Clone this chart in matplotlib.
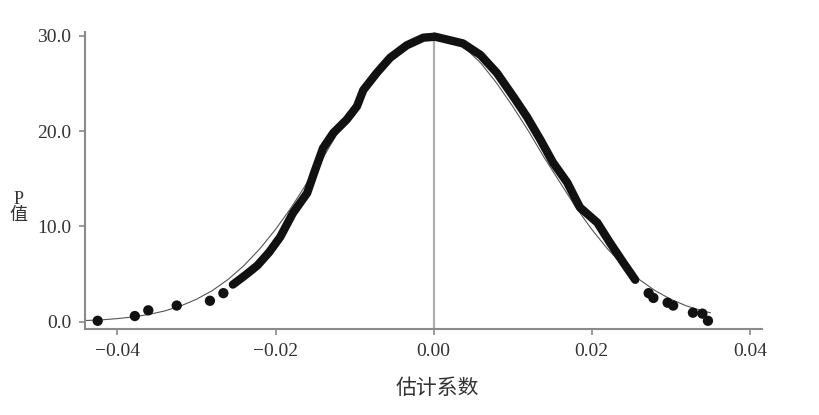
import numpy as np
import matplotlib
matplotlib.use("Agg")
import matplotlib.pyplot as plt

plt.rcParams['font.family'] = ['Liberation Serif', 'Noto Sans CJK SC']

# thick curve (estimated coefficients vs p value)
core_x = [-0.0254, -0.0238, -0.0223, -0.0208, -0.0194, -0.0178, -0.0160, -0.0150,
          -0.0140, -0.0127, -0.0110, -0.0097, -0.0089, -0.0072, -0.0055, -0.0034,
          -0.0013, 0.0002, 0.0037, 0.0059, 0.0080, 0.0101, 0.0118, 0.0135,
          0.0151, 0.0169, 0.0185, 0.0207, 0.0223, 0.0240, 0.0255]
core_y = [3.9, 4.9, 5.9, 7.3, 8.9, 11.4, 13.5, 15.9,
          18.2, 19.8, 21.2, 22.6, 24.3, 26.1, 27.7, 29.0,
          29.8, 29.9, 29.2, 28.0, 26.1, 23.6, 21.5, 19.1,
          16.7, 14.6, 12.0, 10.4, 8.3, 6.2, 4.4]

# scattered tail points
tail_x = [-0.0425, -0.0378, -0.0361, -0.0325, -0.0283, -0.0266,
          0.0272, 0.0278, 0.0296, 0.0303, 0.0328, 0.0340, 0.0347]
tail_y = [0.1, 0.6, 1.2, 1.7, 2.2, 3.0,
          3.0, 2.5, 2.0, 1.7, 0.95, 0.85, 0.1]

# thin reference curve
ref_x = [-0.044, -0.042, -0.040, -0.038, -0.036, -0.034, -0.032, -0.030, -0.028,
         -0.026, -0.024, -0.022, -0.020, -0.018, -0.016, -0.014, -0.012, -0.010,
         -0.008, -0.006, -0.004, -0.002, 0.0, 0.002, 0.004, 0.006, 0.008, 0.010,
         0.012, 0.014, 0.016, 0.018, 0.020, 0.022, 0.024, 0.026, 0.028, 0.030,
         0.032, 0.034, 0.035]
ref_y = [0.13, 0.20, 0.33, 0.51, 0.77, 1.14, 1.66, 2.36, 3.27,
         4.44, 5.89, 7.64, 9.69, 12.0, 14.6, 17.2, 20.0, 22.6,
         25.0, 27.1, 28.7, 29.7, 30.0, 29.7, 28.7, 27.1, 25.0, 22.6,
         20.0, 17.2, 14.6, 12.0, 9.69, 7.64, 5.89, 4.44, 3.27, 2.36,
         1.66, 1.14, 0.95]

xticks = [-0.04, -0.02, 0.0, 0.02, 0.04]
xticklabels = ['\u22120.04', '\u22120.02', '0.00', '0.02', '0.04']
yticks = [0, 10, 20, 30]
yticklabels = ['0.0', '10.0', '20.0', '30.0']

fig = plt.figure(figsize=(8.2, 4.15), dpi=100)
ax = fig.add_axes([0.1037, 0.207, 0.8252, 0.716])

ax.axvline(0, color='#b0b0b0', lw=1.6, zorder=1)
ax.plot(ref_x, ref_y, color='#555555', lw=0.8, zorder=2)
ax.plot(core_x, core_y, color='#111111', lw=6, solid_capstyle='round',
        solid_joinstyle='round', zorder=3)
ax.scatter(tail_x, tail_y, s=55, color='#111111', edgecolors='none', zorder=3)

ax.set_xlim(-0.0441, 0.0415)
ax.set_ylim(-0.77, 30.4)
ax.set_xticks(xticks)
ax.set_xticklabels(xticklabels)
ax.set_yticks(yticks)
ax.set_yticklabels(yticklabels)

for side in ['top', 'right']:
    ax.spines[side].set_visible(False)
for side in ['left', 'bottom']:
    ax.spines[side].set_color('#8a8a8a')
    ax.spines[side].set_linewidth(1.5)

ax.tick_params(direction='out', length=4, width=1.2, color='#8a8a8a',
               labelsize=14, labelcolor='#333333', pad=6)

ax.set_xlabel('估计系数', fontsize=15, color='#333333',
              family=['Noto Sans CJK SC', 'DejaVu Sans'])
ax.xaxis.set_label_coords(0.521, -0.16)
fig.text(0.022, 0.5, 'P\n值', fontsize=13, color='#333333', ha='center',
         va='center', linespacing=0.9, family=['Liberation Serif', 'Noto Sans CJK SC'])

fig.savefig('out.png', dpi=100)
